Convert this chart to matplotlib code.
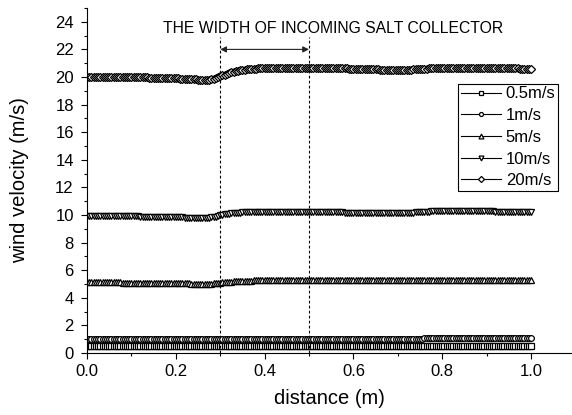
import numpy as np
import matplotlib
matplotlib.use("Agg")
import matplotlib.pyplot as plt
from matplotlib.ticker import MultipleLocator

plt.rcParams['font.family'] = ['Liberation Sans', 'DejaVu Sans']

# distance grid (m), 0.000 .. 1.000 step 0.005
distance = np.linspace(0.0, 1.0, 201)

v05 = [0.50, 0.50, 0.50, 0.50, 0.50, 0.50, 0.50, 0.50, 0.50, 0.50, 0.50, 0.50, 0.50, 0.50, 0.50, 0.50, 0.50, 0.50, 0.50, 0.50,
       0.50, 0.50, 0.50, 0.50, 0.50, 0.50, 0.50, 0.50, 0.50, 0.50, 0.50, 0.50, 0.50, 0.50, 0.50, 0.50, 0.50, 0.50, 0.50, 0.50,
       0.50, 0.50, 0.50, 0.50, 0.50, 0.50, 0.50, 0.50, 0.50, 0.50, 0.49, 0.49, 0.49, 0.49, 0.49, 0.49, 0.49, 0.50, 0.50, 0.50,
       0.50, 0.50, 0.50, 0.50, 0.50, 0.50, 0.50, 0.50, 0.50, 0.50, 0.50, 0.50, 0.50, 0.50, 0.50, 0.50, 0.50, 0.50, 0.50, 0.50,
       0.50, 0.50, 0.50, 0.50, 0.50, 0.50, 0.50, 0.50, 0.50, 0.50, 0.50, 0.50, 0.50, 0.50, 0.50, 0.50, 0.50, 0.50, 0.50, 0.50,
       0.50, 0.50, 0.50, 0.50, 0.50, 0.50, 0.50, 0.50, 0.50, 0.50, 0.50, 0.50, 0.50, 0.50, 0.50, 0.50, 0.50, 0.50, 0.50, 0.50,
       0.50, 0.50, 0.50, 0.50, 0.50, 0.50, 0.50, 0.50, 0.50, 0.50, 0.50, 0.50, 0.50, 0.50, 0.50, 0.50, 0.50, 0.50, 0.50, 0.50,
       0.50, 0.50, 0.50, 0.50, 0.50, 0.50, 0.50, 0.50, 0.50, 0.50, 0.50, 0.50, 0.50, 0.50, 0.50, 0.50, 0.50, 0.50, 0.50, 0.50,
       0.50, 0.50, 0.50, 0.50, 0.50, 0.50, 0.50, 0.50, 0.50, 0.50, 0.50, 0.50, 0.50, 0.50, 0.50, 0.50, 0.50, 0.50, 0.50, 0.50,
       0.50, 0.50, 0.50, 0.50, 0.50, 0.50, 0.50, 0.50, 0.50, 0.50, 0.50, 0.50, 0.50, 0.50, 0.50, 0.50, 0.50, 0.50, 0.50, 0.50,
       0.50]

v1 = [1.03, 1.03, 1.03, 1.03, 1.03, 1.03, 1.03, 1.03, 1.03, 1.03, 1.03, 1.03, 1.03, 1.03, 1.03, 1.03, 1.03, 1.03, 1.03, 1.03,
      1.03, 1.03, 1.03, 1.03, 1.03, 1.03, 1.03, 1.03, 1.03, 1.03, 1.03, 1.03, 1.03, 1.03, 1.03, 1.03, 1.03, 1.03, 1.03, 1.03,
      1.02, 1.02, 1.02, 1.02, 1.02, 1.02, 1.02, 1.02, 1.02, 1.02, 1.02, 1.02, 1.02, 1.02, 1.02, 1.02, 1.02, 1.03, 1.03, 1.03,
      1.03, 1.03, 1.04, 1.04, 1.04, 1.04, 1.04, 1.04, 1.05, 1.05, 1.05, 1.05, 1.05, 1.05, 1.05, 1.05, 1.05, 1.05, 1.05, 1.05,
      1.05, 1.05, 1.05, 1.05, 1.05, 1.05, 1.05, 1.05, 1.05, 1.05, 1.05, 1.05, 1.05, 1.05, 1.05, 1.05, 1.05, 1.05, 1.05, 1.05,
      1.05, 1.05, 1.05, 1.05, 1.05, 1.05, 1.05, 1.05, 1.05, 1.05, 1.05, 1.05, 1.05, 1.05, 1.05, 1.05, 1.05, 1.05, 1.05, 1.05,
      1.05, 1.05, 1.05, 1.05, 1.05, 1.05, 1.05, 1.05, 1.05, 1.05, 1.05, 1.05, 1.05, 1.05, 1.05, 1.05, 1.05, 1.05, 1.05, 1.05,
      1.05, 1.05, 1.05, 1.05, 1.05, 1.05, 1.05, 1.05, 1.05, 1.05, 1.05, 1.05, 1.06, 1.06, 1.06, 1.06, 1.06, 1.06, 1.06, 1.06,
      1.06, 1.06, 1.06, 1.06, 1.06, 1.06, 1.06, 1.06, 1.06, 1.06, 1.06, 1.06, 1.06, 1.06, 1.06, 1.06, 1.06, 1.06, 1.06, 1.06,
      1.06, 1.06, 1.06, 1.06, 1.06, 1.06, 1.06, 1.06, 1.06, 1.06, 1.06, 1.06, 1.06, 1.06, 1.06, 1.06, 1.06, 1.06, 1.06, 1.06,
      1.06]

v5 = [5.12, 5.12, 5.12, 5.12, 5.12, 5.12, 5.12, 5.12, 5.11, 5.11, 5.11, 5.11, 5.11, 5.11, 5.11, 5.11, 5.10, 5.10, 5.10, 5.10,
      5.10, 5.10, 5.10, 5.10, 5.09, 5.09, 5.09, 5.09, 5.08, 5.08, 5.08, 5.08, 5.07, 5.07, 5.07, 5.07, 5.06, 5.06, 5.06, 5.05,
      5.05, 5.05, 5.05, 5.04, 5.04, 5.04, 5.04, 5.03, 5.03, 5.02, 5.02, 5.02, 5.02, 5.01, 5.01, 5.02, 5.03, 5.04, 5.06, 5.08,
      5.10, 5.12, 5.13, 5.15, 5.16, 5.18, 5.19, 5.20, 5.21, 5.22, 5.23, 5.24, 5.24, 5.25, 5.25, 5.26, 5.26, 5.26, 5.26, 5.27,
      5.27, 5.27, 5.27, 5.27, 5.27, 5.27, 5.27, 5.28, 5.28, 5.28, 5.28, 5.28, 5.28, 5.28, 5.28, 5.28, 5.28, 5.28, 5.28, 5.28,
      5.28, 5.28, 5.28, 5.28, 5.28, 5.28, 5.28, 5.28, 5.27, 5.27, 5.27, 5.27, 5.27, 5.27, 5.27, 5.27, 5.27, 5.27, 5.27, 5.27,
      5.27, 5.27, 5.27, 5.27, 5.27, 5.27, 5.27, 5.27, 5.27, 5.27, 5.26, 5.26, 5.26, 5.26, 5.26, 5.26, 5.26, 5.26, 5.26, 5.26,
      5.26, 5.26, 5.26, 5.26, 5.27, 5.27, 5.27, 5.27, 5.27, 5.27, 5.28, 5.28, 5.28, 5.28, 5.29, 5.29, 5.29, 5.29, 5.29, 5.29,
      5.29, 5.29, 5.29, 5.29, 5.29, 5.29, 5.29, 5.29, 5.29, 5.29, 5.29, 5.29, 5.29, 5.29, 5.29, 5.29, 5.29, 5.29, 5.29, 5.29,
      5.29, 5.29, 5.29, 5.29, 5.29, 5.29, 5.29, 5.29, 5.29, 5.29, 5.29, 5.29, 5.29, 5.29, 5.29, 5.29, 5.29, 5.29, 5.29, 5.29,
      5.29]

v10 = [9.92, 9.92, 9.92, 9.92, 9.92, 9.92, 9.92, 9.92, 9.91, 9.91, 9.91, 9.91, 9.91, 9.91, 9.91, 9.91, 9.90, 9.90, 9.90, 9.90,
       9.90, 9.90, 9.90, 9.90, 9.89, 9.89, 9.89, 9.89, 9.88, 9.88, 9.88, 9.88, 9.87, 9.87, 9.86, 9.86, 9.85, 9.85, 9.84, 9.84,
       9.83, 9.83, 9.82, 9.82, 9.81, 9.81, 9.80, 9.80, 9.79, 9.79, 9.78, 9.78, 9.77, 9.77, 9.78, 9.80, 9.82, 9.85, 9.89, 9.93,
       9.97, 10.01, 10.04, 10.07, 10.10, 10.12, 10.14, 10.16, 10.17, 10.18, 10.19, 10.20, 10.20, 10.21, 10.21, 10.21, 10.21, 10.22, 10.22, 10.22,
       10.22, 10.22, 10.22, 10.22, 10.22, 10.22, 10.22, 10.22, 10.22, 10.22, 10.22, 10.22, 10.21, 10.21, 10.21, 10.21, 10.21, 10.21, 10.21, 10.21,
       10.21, 10.21, 10.21, 10.20, 10.20, 10.20, 10.20, 10.20, 10.20, 10.20, 10.20, 10.19, 10.19, 10.19, 10.19, 10.19, 10.18, 10.18, 10.18, 10.18,
       10.18, 10.18, 10.18, 10.18, 10.17, 10.17, 10.17, 10.17, 10.17, 10.17, 10.17, 10.17, 10.16, 10.16, 10.16, 10.16, 10.16, 10.16, 10.16, 10.16,
       10.16, 10.16, 10.16, 10.17, 10.17, 10.17, 10.18, 10.18, 10.19, 10.20, 10.21, 10.22, 10.23, 10.24, 10.25, 10.26, 10.26, 10.27, 10.27, 10.28,
       10.28, 10.28, 10.28, 10.28, 10.28, 10.28, 10.28, 10.28, 10.28, 10.28, 10.27, 10.27, 10.27, 10.27, 10.27, 10.26, 10.26, 10.26, 10.26, 10.26,
       10.26, 10.26, 10.26, 10.26, 10.25, 10.25, 10.25, 10.25, 10.25, 10.25, 10.25, 10.25, 10.24, 10.24, 10.24, 10.24, 10.24, 10.24, 10.24, 10.24,
       10.24]

v20 = [20.00, 20.00, 20.00, 20.00, 20.00, 20.00, 20.00, 20.00, 20.00, 20.00, 19.99, 19.99, 19.99, 19.99, 19.99, 19.99, 19.99, 19.99, 19.98, 19.98,
       19.98, 19.98, 19.98, 19.98, 19.97, 19.97, 19.97, 19.97, 19.96, 19.96, 19.96, 19.96, 19.95, 19.95, 19.95, 19.94, 19.94, 19.93, 19.93, 19.92,
       19.91, 19.90, 19.89, 19.88, 19.87, 19.86, 19.85, 19.84, 19.83, 19.82, 19.81, 19.80, 19.78, 19.77, 19.76, 19.77, 19.82, 19.87, 19.92, 19.98,
       20.05, 20.11, 20.17, 20.23, 20.28, 20.33, 20.38, 20.42, 20.46, 20.49, 20.52, 20.54, 20.56, 20.58, 20.59, 20.60, 20.61, 20.62, 20.62, 20.63,
       20.63, 20.64, 20.64, 20.64, 20.64, 20.65, 20.65, 20.65, 20.65, 20.66, 20.66, 20.66, 20.66, 20.67, 20.67, 20.67, 20.67, 20.67, 20.67, 20.67,
       20.67, 20.67, 20.67, 20.67, 20.67, 20.67, 20.66, 20.66, 20.66, 20.66, 20.65, 20.65, 20.64, 20.64, 20.63, 20.63, 20.62, 20.62, 20.61, 20.61,
       20.60, 20.60, 20.59, 20.59, 20.58, 20.58, 20.57, 20.57, 20.56, 20.56, 20.55, 20.55, 20.54, 20.54, 20.53, 20.53, 20.53, 20.52, 20.52, 20.52,
       20.52, 20.52, 20.52, 20.52, 20.53, 20.53, 20.54, 20.55, 20.56, 20.57, 20.58, 20.59, 20.60, 20.61, 20.62, 20.62, 20.63, 20.63, 20.64, 20.64,
       20.65, 20.65, 20.66, 20.66, 20.66, 20.66, 20.67, 20.67, 20.67, 20.67, 20.67, 20.67, 20.67, 20.67, 20.67, 20.66, 20.66, 20.66, 20.66, 20.65,
       20.65, 20.65, 20.65, 20.64, 20.64, 20.64, 20.64, 20.63, 20.63, 20.63, 20.63, 20.62, 20.62, 20.62, 20.62, 20.61, 20.61, 20.61, 20.61, 20.60,
       20.60]

labels = ['0.5m/s', '1m/s', '5m/s', '10m/s', '20m/s']
markers = ['s', 'o', '^', 'v', 'D']
msizes = [3.8, 4.1, 5.0, 5.0, 4.4]
series = [v05, v1, v5, v10, v20]

collector_edges = [0.3, 0.5]
annotation = 'THE WIDTH OF INCOMING SALT COLLECTOR'

fig = plt.figure(figsize=(5.72, 4.15), dpi=100)
ax = fig.add_axes([87/572, 1 - 353/415, (572 - 87)/572, (353 - 8)/415])

for y, lab, m, ms in zip(series, labels, markers, msizes):
    ax.plot(distance, y, color='black', lw=0.8, marker=m, markersize=ms,
            markerfacecolor='white', markeredgecolor='black',
            markeredgewidth=0.9, label=lab)

for xe in collector_edges:
    ax.plot([xe, xe], [0, 22.9], color='black', lw=0.8, ls=(0, (2.5, 2)))

ax.annotate('', xy=(collector_edges[0], 22), xytext=(collector_edges[1], 22),
            arrowprops=dict(arrowstyle='<|-|>', color='#222222', lw=0.8,
                            mutation_scale=9, shrinkA=0, shrinkB=0))
ax.text(0.554, 23.55, annotation, ha='center', va='center', fontsize=11.3)

ax.set_xlim(0, (572 - 87) / 444)
ax.set_ylim(0, 25)
ax.xaxis.set_minor_locator(MultipleLocator(0.1))
ax.yaxis.set_major_locator(MultipleLocator(2))
ax.yaxis.set_minor_locator(MultipleLocator(1))
ax.set_xticks([0.0, 0.2, 0.4, 0.6, 0.8, 1.0])
ax.set_xticklabels(['0.0', '0.2', '0.4', '0.6', '0.8', '1.0'])
ax.tick_params(axis='both', which='major', direction='out', length=4.5,
               width=0.8, labelsize=12)
ax.tick_params(axis='x', which='major', pad=3.5)
ax.tick_params(axis='y', which='major', pad=5)
ax.tick_params(axis='both', which='minor', direction='out', length=2.5, width=0.8)
ax.spines['top'].set_visible(False)
ax.spines['right'].set_visible(False)
for s in ['left', 'bottom']:
    ax.spines[s].set_linewidth(0.8)

ax.set_xlabel('distance (m)', fontsize=14.5, labelpad=7)
ax.set_ylabel('wind velocity (m/s)', fontsize=14.5, labelpad=19)

leg = ax.legend(loc='upper right', bbox_to_anchor=((558 - 87) / 485, (353 - 84) / 345),
                fontsize=12, frameon=True, fancybox=False, framealpha=1,
                edgecolor='black', numpoints=1, markerscale=0.7,
                handlelength=2.4, handletextpad=0.3, borderpad=0.15,
                labelspacing=0.4, borderaxespad=0)
leg.get_frame().set_linewidth(0.8)

fig.savefig('out.png', dpi=100)
